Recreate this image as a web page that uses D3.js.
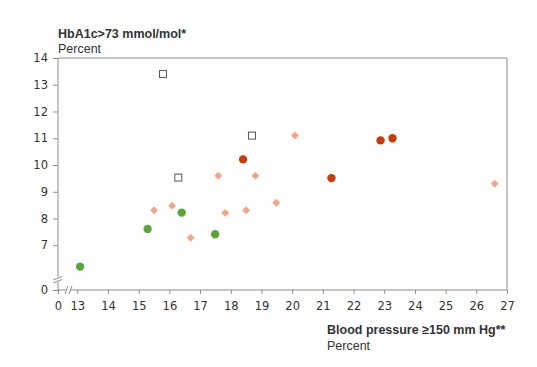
<!DOCTYPE html>
<html>
<head>
<meta charset="utf-8">
<script src="https://cdn.jsdelivr.net/npm/d3@7"></script>
<style>
  body { margin: 0; background: #fff; }
  text { fill: #333; }
</style>
</head>
<body>
<svg id="chart" width="537" height="367"></svg>
<script>
// HbA1c vs blood pressure, percent
const squares = [[15.79, 13.40], [18.69, 11.1], [16.29, 9.53]]
const darkRed = [[18.40, 10.21], [21.28, 9.51], [22.88, 10.92], [23.27, 11.0]]
const salmon = [[20.09, 11.1], [19.48, 8.59], [26.6, 9.3], [17.59, 9.6], [18.8, 9.6],
  [15.5, 8.31], [16.09, 8.48], [16.69, 7.28], [17.82, 8.21], [18.5, 8.31]]
const green = [[13.09, 6.2], [15.29, 7.61], [16.4, 8.22], [17.49, 7.41]]
const xTicks = [0, 13, 14, 15, 16, 17, 18, 19, 20, 21, 22, 23, 24, 25, 26, 27]
const yTicks = [0, 7, 8, 9, 10, 11, 12, 13, 14]

const svg = d3.select("#chart")
const L = 58, R = 507, T = 58, B = 290
const axisCol = "#8c8c8c"

// broken scales: 0 sits just before the break
const x = d3.scaleLinear().domain([0, 12.5, 27]).range([L, 62, R])
const y = d3.scaleLinear().domain([0, 6, 14]).range([B, 272, T])

const gx = svg.append("g").attr("transform", `translate(0,${B})`)
  .call(d3.axisBottom(x).tickValues(xTicks).tickSize(4).tickPadding(8).tickFormat(d3.format("d")))
const gy = svg.append("g").attr("transform", `translate(${L},0)`)
  .call(d3.axisLeft(y).tickValues(yTicks).tickSize(5).tickPadding(5).tickFormat(d3.format("d")))

for (const g of [gx, gy]) {
  g.selectAll("path, line").attr("stroke", axisCol)
  g.selectAll("text").style("font-family", "DejaVu Sans, Verdana, sans-serif")
    .style("font-size", "11.5px").attr("fill", "#333")
}
gx.select(".domain").attr("d", `M${L},0H${R}`)
gy.select(".domain").attr("d", `M0,${B}V${T}`)

// frame top and right
svg.append("path").attr("d", `M${L},${T}H${R}V${B}`)
  .attr("fill", "none").attr("stroke", axisCol)

// axis breaks
const brk = svg.append("g").attr("stroke", axisCol).attr("stroke-width", 1)
brk.append("rect").attr("x", L - 2).attr("y", 277).attr("width", 4).attr("height", 5)
  .attr("fill", "#fff").attr("stroke", "none")
brk.append("line").attr("x1", L - 5).attr("y1", 280).attr("x2", L + 4).attr("y2", 276.5)
brk.append("line").attr("x1", L - 5).attr("y1", 283).attr("x2", L + 4).attr("y2", 279.5)
brk.append("rect").attr("x", 66).attr("y", B - 2).attr("width", 4).attr("height", 4)
  .attr("fill", "#fff").attr("stroke", "none")
brk.append("line").attr("x1", 65).attr("y1", B + 4).attr("x2", 68).attr("y2", B - 4)
brk.append("line").attr("x1", 69).attr("y1", B + 4).attr("x2", 72).attr("y2", B - 4)

// points
svg.append("g").selectAll("path").data(salmon).join("path")
  .attr("transform", d => `translate(${x(d[0])},${y(d[1])}) rotate(45)`)
  .attr("d", "M-2.8,-2.8H2.8V2.8H-2.8Z").attr("fill", "#f4a587")

svg.append("g").selectAll("circle").data(darkRed).join("circle")
  .attr("cx", d => x(d[0])).attr("cy", d => y(d[1])).attr("r", 4.2)
  .attr("fill", "#c63c0c")

svg.append("g").selectAll("circle").data(green).join("circle")
  .attr("cx", d => x(d[0])).attr("cy", d => y(d[1])).attr("r", 4.2)
  .attr("fill", "#5ba33b")

svg.append("g").selectAll("rect").data(squares).join("rect")
  .attr("x", d => x(d[0]) - 3.5).attr("y", d => y(d[1]) - 3.5)
  .attr("width", 7).attr("height", 7)
  .attr("fill", "#fff").attr("stroke", "#555").attr("stroke-width", 1)

// titles
const font = "Liberation Sans, Arial, sans-serif"
svg.append("text").attr("x", 58).attr("y", 38).text("HbA1c>73 mmol/mol*")
  .style("font-family", font).style("font-size", "12.5px").style("font-weight", "bold")
svg.append("text").attr("x", 58).attr("y", 53).text("Percent")
  .style("font-family", font).style("font-size", "12.5px")
svg.append("text").attr("x", 327).attr("y", 334).text("Blood pressure ≥150 mm Hg**")
  .style("font-family", font).style("font-size", "12.5px").style("font-weight", "bold")
svg.append("text").attr("x", 327).attr("y", 350).text("Percent")
  .style("font-family", font).style("font-size", "12.5px")
</script>
</body>
</html>
